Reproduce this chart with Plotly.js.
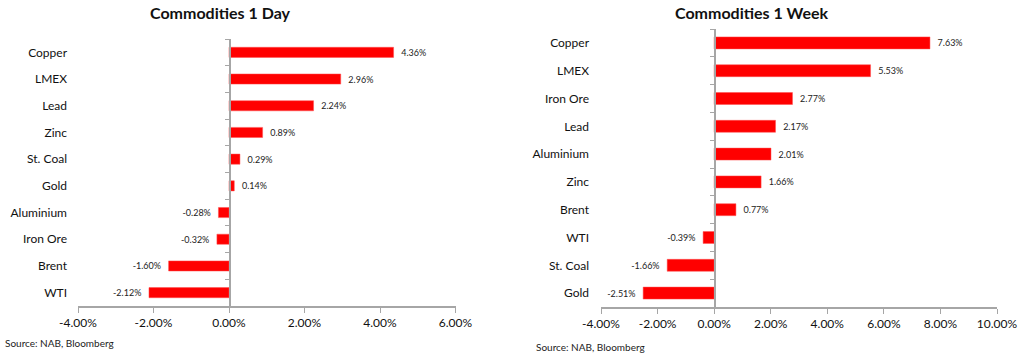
<!DOCTYPE html>
<html><head><meta charset="utf-8">
<script src="https://cdn.plot.ly/plotly-3.0.1.min.js"></script>
<style>html,body{margin:0;padding:0;background:#fff}#chart{width:1024px;height:358px}</style>
</head><body><div id="chart"></div>
<script>
const dayCats = ["Copper","LMEX","Lead","Zinc","St. Coal","Gold","Aluminium","Iron Ore","Brent","WTI"];
const dayVals = [4.36, 2.96, 2.24, 0.89, 0.29, 0.14, -0.28, -0.32, -1.60, -2.12];
const weekCats = ["Copper","LMEX","Iron Ore","Lead","Aluminium","Zinc","Brent","WTI","St. Coal","Gold"];
const weekVals = [7.63, 5.53, 2.77, 2.17, 2.01, 1.66, 0.77, -0.39, -1.66, -2.51];
const dayTitle = "Commodities 1 Day";
const weekTitle = "Commodities 1 Week";
const sourceText = "Source: NAB, Bloomberg";
const dayRange = [-4, 6];
const weekRange = [-4, 10];

const W = 1024, H = 358;
const FONT = "Lato, 'Open Sans', sans-serif";
const GRAY = "#a6a6a6";
const dom1x = [78/W, 455.5/W], dom1y = [(H-306)/H, (H-39)/H];
const dom2x = [601/W, 997/W], dom2y = [(H-307)/H, (H-29)/H];
function zeroPos(dom, r){ return dom[0] + (0 - r[0])/(r[1]-r[0])*(dom[1]-dom[0]); }
const NB = '\u00a0';
function label(v){ const s = v.toFixed(2) + '%'; return v >= 0 ? NB + NB + s : s + NB + NB; }
function aliases(r){ const a = {}; for (let t = r[0]; t <= r[1]; t += 2) { if (t < 0) a['\u2212' + Math.abs(t).toFixed(2) + '%'] = '-' + Math.abs(t).toFixed(2) + '%'; } return a; }

function barTrace(cats, vals, xa, ya, w){
  return {type:'bar', orientation:'h', x:vals, y:cats, xaxis:xa, yaxis:ya,
    width:w, marker:{color:'#ff0000', line:{color:'#ff5050', width:0.5}},
    text: vals.map(label), textposition:'outside', cliponaxis:false,
    constraintext:'none', textfont:{family:FONT, size:9, color:'#222'},
    hoverinfo:'x+y', showlegend:false};
}
function ghost(cats, vals, xa, ya){
  return {type:'scatter', mode:'none', x:vals, y:cats, xaxis:xa, yaxis:ya, hoverinfo:'skip', showlegend:false};
}
const catAxis = (dom, anchor, cats, so) => ({domain:dom, anchor:anchor, type:'category', categoryorder:'array',
  categoryarray:cats, autorange:'reversed', showline:false, showgrid:false, zeroline:false, ticks:'',
  tickfont:{family:FONT, size:12, color:'#111'}, ticklabelstandoff:so, fixedrange:true});
const zeroAxis = (over, pos, cats) => ({overlaying:over, anchor:'free', position:pos, type:'category',
  categoryorder:'array', categoryarray:cats, autorange:'reversed', showline:true, linecolor:GRAY, linewidth:1.5,
  ticks:'outside', ticklen:4, tickcolor:GRAY, tickwidth:1, tickson:'boundaries', showticklabels:false,
  showgrid:false, zeroline:false});
const valAxis = (dom, anchor, r) => ({domain:dom, anchor:anchor, range:r, dtick:2, tick0:0,
  tickformat:'.2f', ticksuffix:'%', labelalias:aliases(r), showgrid:false, zeroline:false, showline:true, linecolor:GRAY,
  linewidth:1.5, ticks:'outside', ticklen:5, tickcolor:GRAY, tickfont:{family:FONT, size:12, color:'#111'},
  fixedrange:true});

const data = [
  barTrace(dayCats, dayVals, 'x', 'y', 0.38),
  ghost(dayCats, dayVals, 'x', 'y3'),
  barTrace(weekCats, weekVals, 'x2', 'y2', 0.43),
  ghost(weekCats, weekVals, 'x2', 'y4')
];
const layout = {
  width:W, height:H, margin:{l:0,r:0,t:0,b:0}, paper_bgcolor:'#fff', plot_bgcolor:'rgba(0,0,0,0)',
  showlegend:false, barmode:'overlay',
  xaxis: valAxis(dom1x, 'y', dayRange),
  yaxis: catAxis(dom1y, 'x', dayCats, 10),
  yaxis3: zeroAxis('y', zeroPos(dom1x, dayRange), dayCats),
  xaxis2: valAxis(dom2x, 'y2', weekRange),
  yaxis2: catAxis(dom2y, 'x2', weekCats, 11),
  yaxis4: zeroAxis('y2', zeroPos(dom2x, weekRange), weekCats),
  annotations: [
    {text:'<b>'+dayTitle+'</b>', xref:'paper', yref:'paper', x:220/W, y:1-1/H, xanchor:'center', yanchor:'top',
     showarrow:false, font:{family:FONT, size:16, color:'#111'}},
    {text:'<b>'+weekTitle+'</b>', xref:'paper', yref:'paper', x:751/W, y:1-1/H, xanchor:'center', yanchor:'top',
     showarrow:false, font:{family:FONT, size:16, color:'#111'}},
    {text:sourceText, xref:'paper', yref:'paper', x:3/W, y:1-343/H, xanchor:'left', yanchor:'middle',
     showarrow:false, font:{family:FONT, size:10, color:'#222'}},
    {text:sourceText, xref:'paper', yref:'paper', x:534/W, y:1-347/H, xanchor:'left', yanchor:'middle',
     showarrow:false, font:{family:FONT, size:10, color:'#222'}}
  ]
};
Plotly.newPlot('chart', data, layout, {displayModeBar:false, staticPlot:true});
</script></body></html>
